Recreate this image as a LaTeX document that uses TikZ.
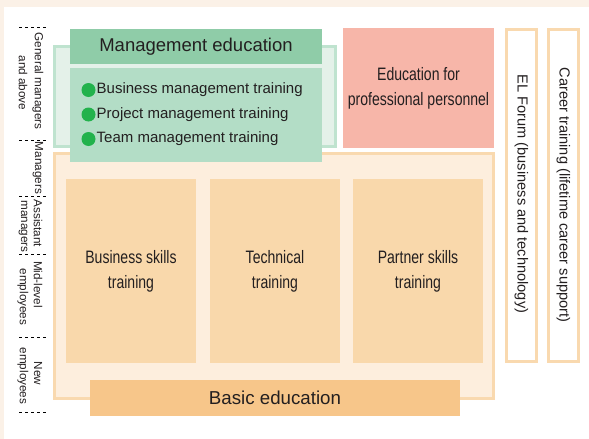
\documentclass[tikz,border=0pt]{standalone}
\usepackage{fontspec}
\setmainfont{Liberation Sans}
\newfontfamily\narrowfont[FakeStretch=0.78]{Liberation Sans}
\definecolor{bgbeige}{HTML}{FBF1E7}
\definecolor{gframefill}{HTML}{E4F1E9}
\definecolor{gframedraw}{HTML}{BFE3CF}
\definecolor{ghead}{HTML}{8FCCA8}
\definecolor{glist}{HTML}{B3DDC6}
\definecolor{pinkbox}{HTML}{F7B6A9}
\definecolor{oframefill}{HTML}{FDEEDD}
\definecolor{oframedraw}{HTML}{F9D9AF}
\definecolor{skillfill}{HTML}{F9D8AB}
\definecolor{basicfill}{HTML}{F7C68A}
\definecolor{bulletgreen}{HTML}{22B24C}
\definecolor{txt}{HTML}{231F20}
\begin{document}
\begin{tikzpicture}[x=1pt,y=-1pt,
  every node/.style={text=txt},
  boxnode/.style={anchor=north west,inner sep=0pt,outer sep=0pt,align=center},
  narrowtext/.style={font=\narrowfont\fontsize{18}{25}\selectfont},
  sidelabel/.style={rotate=-90,inner sep=0pt,font=\fontsize{11.7}{13}\selectfont},
  coltext/.style={rotate=-90,inner sep=0pt,font=\fontsize{14.6}{17}\selectfont},
  bullet/.style={circle,fill=bulletgreen,inner sep=0pt,minimum size=14pt},
  itemtext/.style={anchor=west,inner sep=0pt,font=\fontsize{15}{17}\selectfont},
  sep/.style={draw=black,line width=0.8pt,dash pattern=on 3pt off 3pt}]
\useasboundingbox (0,0) rectangle (589,439);
% background
\fill[bgbeige] (0,0) rectangle (589,439);
\fill[white] (4,7) rectangle (589,439);
% green frame
\node[boxnode,fill=gframefill,draw=gframedraw,line width=3pt,minimum width=281pt,minimum height=100pt] (gframe) at (54.5,46.5) {};
% orange frame
\node[boxnode,fill=oframefill,draw=oframedraw,line width=3pt,minimum width=439pt,minimum height=245pt] (oframe) at (54.5,153.5) {};
% management education
\node[boxnode,fill=ghead,minimum width=252pt,minimum height=35pt,font=\fontsize{18.5}{20}\selectfont] (mhead) at (70,29) {Management education};
\node[boxnode,fill=glist,minimum width=252pt,minimum height=94pt] (mlist) at (70,68) {};
\node[bullet] (b1) at (88.5,90) {};
\node[bullet] (b2) at (88.5,114.5) {};
\node[bullet] (b3) at (88.5,139) {};
\node[itemtext] (t1) at (96.5,90) {Business management training};
\node[itemtext] (t2) at (96.5,114.5) {Project management training};
\node[itemtext] (t3) at (96.5,139) {Team management training};
% professional
\node[boxnode,fill=pinkbox,minimum width=151pt,minimum height=120pt,narrowtext] (prof) at (343,28) {Education for\\professional personnel};
% columns
\node[boxnode,fill=white,draw=oframedraw,line width=3pt,minimum width=30pt,minimum height=332pt] (elcol) at (506.5,29.5) {};
\node[boxnode,fill=white,draw=oframedraw,line width=3pt,minimum width=30pt,minimum height=332pt] (cacol) at (548.5,29.5) {};
\node[coltext] (eltext) at (521.5,194) {EL Forum (business and technology)};
\node[coltext] (catext) at (563.5,195) {Career training (lifetime career support)};
% skills
\node[boxnode,fill=skillfill,minimum width=130pt,minimum height=184pt,narrowtext] (bs) at (66,179) {Business skills\\training};
\node[boxnode,fill=skillfill,minimum width=130pt,minimum height=184pt,narrowtext] (ts) at (210,179) {Technical\\training};
\node[boxnode,fill=skillfill,minimum width=130pt,minimum height=184pt,narrowtext] (ps) at (353,179) {Partner skills\\training};
% basic
\node[boxnode,fill=basicfill,minimum width=370pt,minimum height=36pt,font=\fontsize{18.7}{20}\selectfont] (basic) at (90,380) {Basic education};
% side labels
\node[sidelabel] (l1a) at (38,81) {General managers};
\node[sidelabel] (l1b) at (23,83) {and above};
\node[sidelabel] (l2a) at (38,168) {Managers};
\node[sidelabel] (l3a) at (38,223.5) {Assistant};
\node[sidelabel] (l3b) at (23,226.5) {managers};
\node[sidelabel] (l4a) at (38,284.5) {Mid-level};
\node[sidelabel] (l4b) at (23,297) {employees};
\node[sidelabel] (l5a) at (38,373.5) {New};
\node[sidelabel] (l5b) at (23,376) {employees};
% separators
\coordinate (s0a) at (19,27); \coordinate (s0b) at (46,27);
\coordinate (s1a) at (19,140); \coordinate (s1b) at (46,140);
\coordinate (s2a) at (19,196); \coordinate (s2b) at (46,196);
\coordinate (s3a) at (19,254.5); \coordinate (s3b) at (46,254.5);
\coordinate (s4a) at (19,337.5); \coordinate (s4b) at (46,337.5);
\coordinate (s5a) at (19,412); \coordinate (s5b) at (46,412);
\draw[sep] (s0a) -- (s0b);
\draw[sep] (s1a) -- (s1b);
\draw[sep] (s2a) -- (s2b);
\draw[sep] (s3a) -- (s3b);
\draw[sep] (s4a) -- (s4b);
\draw[sep] (s5a) -- (s5b);
\end{tikzpicture}
\end{document}
